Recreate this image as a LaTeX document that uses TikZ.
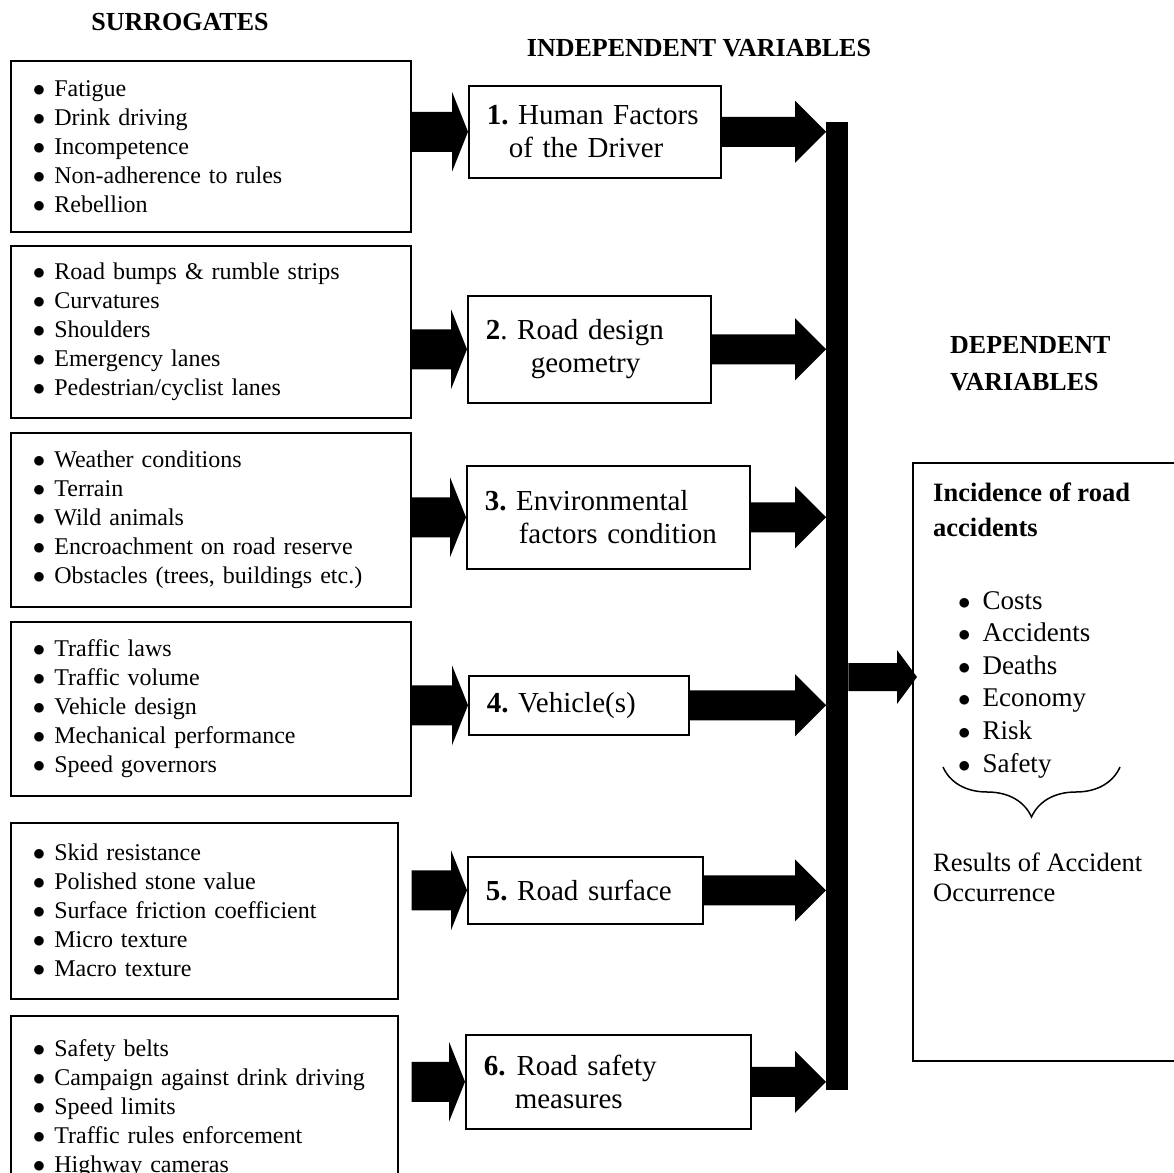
\documentclass[tikz,border=0pt]{standalone}
\usepackage{fontspec}
\setmainfont{Liberation Serif}
\frenchspacing
\usepackage{tikz}
\usetikzlibrary{calc,positioning,decorations.pathreplacing}

\newcommand{\bitem}[1]{\makebox[0.9em][l]{$\bullet$}#1}

\tikzset{
  listbox/.style={
    draw,
    line width=1.5pt,
    anchor=north west,
    align=left,
    text width=#1,
    inner xsep=22pt,
    inner ysep=0pt,
    font=\fontsize{24}{29}\selectfont
  },
  factorbox/.style={
    draw,
    line width=1.5pt,
    fill=white,
    anchor=north west,
    align=left,
    text width=#1,
    inner xsep=18pt,
    inner ysep=0pt,
    font=\fontsize{29}{33}\selectfont
  },
  heading/.style={
    font=\bfseries\fontsize{26}{37}\selectfont,
    align=left,
    inner sep=0pt
  },
  fatarrow/.style n args={3}{
    to path={
      let \p1=(\tikztostart), \p2=(\tikztotarget) in
      (\x1,\y1+#1) -- (\x2-#3,\y1+#1) -- (\x2-#3,\y1+#2) -- (\x2,\y1)
      -- (\x2-#3,\y1-#2) -- (\x2-#3,\y1-#1) -- (\x1,\y1-#1) -- cycle
    }
  },
  fatin/.style={fatarrow={20pt}{40pt}{16pt}},
  fatout/.style={fatarrow={15pt}{31pt}{31pt}},
  fatres/.style={fatarrow={14pt}{27pt}{20pt}}
}

\begin{document}
\begin{tikzpicture}[x=1pt,y=-1pt]
    \useasboundingbox (0,0) rectangle (1174,1172);
    \clip (0,0) rectangle (1174,1172);

    % headings
    \node[heading] (surr) at (180,22) {SURROGATES};
    \node[heading] (indep) at (699,48) {INDEPENDENT VARIABLES};
    \node[heading, anchor=north west] (dep) at (950,336) {DEPENDENT\\VARIABLES};

    % surrogates
    \node[listbox=356pt, minimum height=171pt] (s1) at (10,60) {
        \bitem{Fatigue}\\
        \bitem{Drink driving}\\
        \bitem{Incompetence}\\
        \bitem{Non-adherence to rules}\\
        \bitem{Rebellion}
    };
    \node[listbox=356pt, minimum height=172pt] (s2) at (10,245) {
        \bitem{Road bumps \& rumble strips}\\
        \bitem{Curvatures}\\
        \bitem{Shoulders}\\
        \bitem{Emergency lanes}\\
        \bitem{Pedestrian/cyclist lanes}
    };
    \node[listbox=356pt, minimum height=174pt] (s3) at (10,432) {
        \bitem{Weather conditions}\\
        \bitem{Terrain}\\
        \bitem{Wild animals}\\
        \bitem{Encroachment on road reserve}\\
        \bitem{Obstacles (trees, buildings etc.)}
    };
    \node[listbox=356pt, minimum height=174pt] (s4) at (10,621) {
        \bitem{Traffic laws}\\
        \bitem{Traffic volume}\\
        \bitem{Vehicle design}\\
        \bitem{Mechanical performance}\\
        \bitem{Speed governors}
    };
    \node[listbox=343pt, minimum height=176pt] (s5) at (10,822) {
        \bitem{Skid resistance}\\
        \bitem{Polished stone value}\\
        \bitem{Surface friction coefficient}\\
        \bitem{Micro texture}\\
        \bitem{Macro texture}
    };
    \node[listbox=343pt, minimum height=185pt] (s6) at (10,1015) {
        \bitem{Safety belts}\\
        \bitem{Campaign against drink driving}\\
        \bitem{Speed limits}\\
        \bitem{Traffic rules enforcement}\\
        \bitem{Highway cameras}
    };

    % independent variables
    \node[factorbox=216pt, minimum height=92pt] (h1) at (468,85) {
        \textbf{1.} Human Factors\\\hspace*{22pt}of the Driver
    };
    \node[factorbox=207pt, minimum height=107pt] (h2) at (467,295) {
        \textbf{2}. Road design\\\hspace*{45pt}geometry
    };
    \node[factorbox=247pt, minimum height=103pt] (h3) at (466,465) {
        \textbf{3.} Environmental\\\hspace*{34pt}factors condition
    };
    \node[factorbox=184pt, minimum height=59pt] (h4) at (468,675) {
        \textbf{4.} Vehicle(s)
    };
    \node[factorbox=199pt, minimum height=67pt] (h5) at (467,856) {
        \textbf{5.} Road surface
    };
    \node[factorbox=249pt, minimum height=94pt] (h6) at (465,1034) {
        \textbf{6.}\hspace{11pt}Road safety\\\hspace*{31pt}measures
    };

    % collecting bar
    \node[fill=black, inner sep=0pt, minimum width=22pt, minimum height=968pt,
          anchor=north west] (bar) at (826,122) {};

    % dependent variables
    \node[draw, line width=1.5pt, anchor=north west, minimum width=300pt,
          minimum height=598pt] (out) at (912,462) {};
    \node[anchor=north west, inner sep=0pt, align=left,
          font=\bfseries\fontsize{26.5}{35}\selectfont] (outtitle) at (933,483)
          {Incidence of road\\accidents};
    \node[anchor=north west, inner sep=0pt, align=left,
          font=\fontsize{27}{32.6}\selectfont] (outlist) at (958,591) {
        \bitem{Costs}\\
        \bitem{Accidents}\\
        \bitem{Deaths}\\
        \bitem{Economy}\\
        \bitem{Risk}\\
        \bitem{Safety}
    };
    \draw[line width=1.5pt, decorate, decoration={brace, mirror, amplitude=50pt}]
        (943,767) -- (1120,767);
    \node[anchor=north west, inner sep=0pt, align=left,
          font=\fontsize{26.5}{30}\selectfont] (outres) at (933,853)
          {Results of Accident\\Occurrence};
    \coordinate (outin) at (917,677);

    % arrows in
    \fill[fatin] (s1.east |- h1.west) to (h1.west);
    \fill[fatin] (s2.east |- h2.west) to (h2.west);
    \fill[fatin] (s3.east |- h3.west) to (h3.west);
    \fill[fatin] (s4.east |- h4.west) to (h4.west);
    \fill[fatin] ([xshift=13pt]s5.east |- h5.west) to (h5.west);
    \fill[fatin] ([xshift=13pt]s6.east |- h6.west) to (h6.west);

    % arrows to the bar
    \fill[fatout] (h1.east) to (h1.east -| bar.west);
    \fill[fatout] (h2.east) to (h2.east -| bar.west);
    \fill[fatout] (h3.east) to (h3.east -| bar.west);
    \fill[fatout] (h4.east) to (h4.east -| bar.west);
    \fill[fatout] (h5.east) to (h5.east -| bar.west);
    \fill[fatout] (h6.east) to (h6.east -| bar.west);

    \fill[fatres] (bar.east |- outin) to (outin);
\end{tikzpicture}
\end{document}
